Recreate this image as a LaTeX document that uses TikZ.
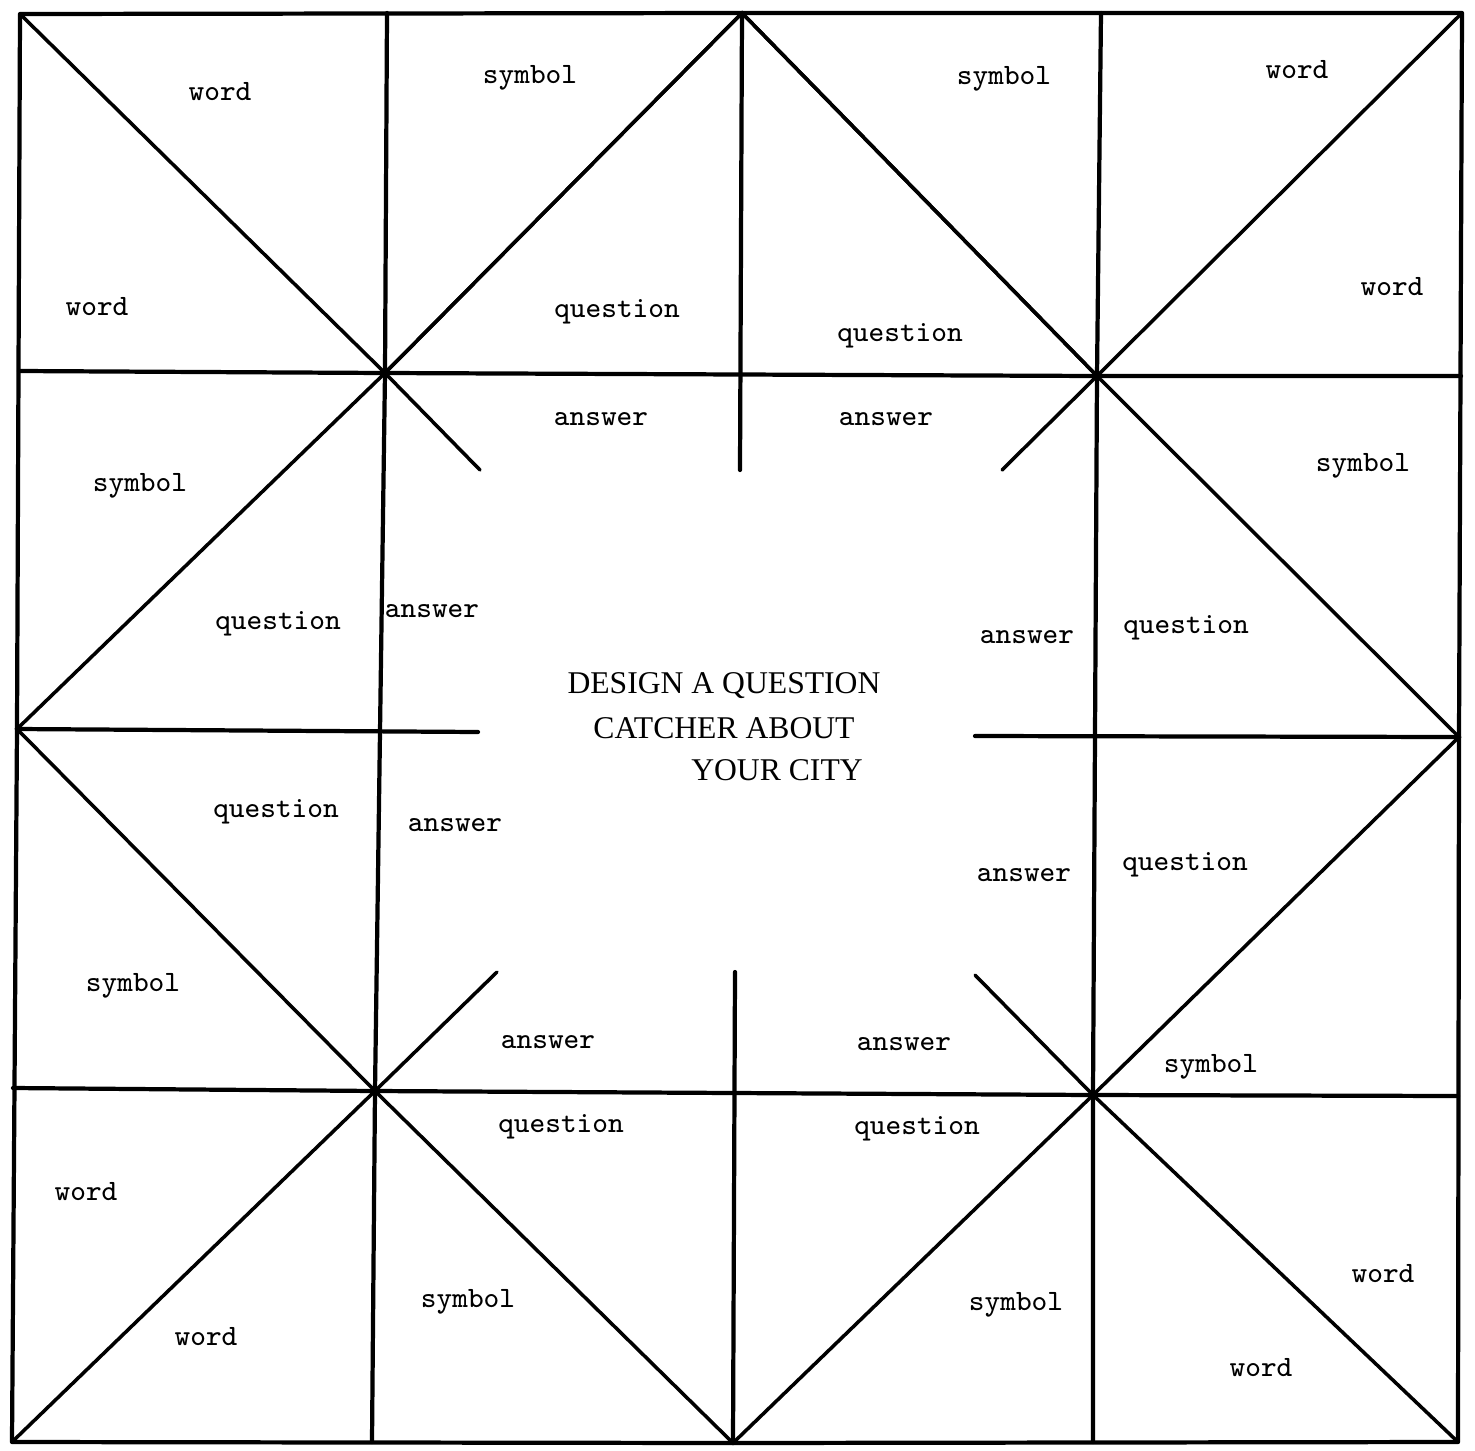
\documentclass[tikz,border=0pt]{standalone}
\usepackage{fontspec}
\newfontfamily\capsfont{Liberation Serif}
\usetikzlibrary{calc}

\begin{document}
\begin{tikzpicture}[
  x=0.01cm, y=-0.01cm,
  gridline/.style = {line width=1.2pt, line cap=round, line join=round},
  crease/.style   = {line width=1pt, line cap=round},
  lbl/.style      = {font=\ttfamily\fontsize{8.4}{10}\selectfont, inner sep=0pt},
  heading/.style  = {font=\capsfont\fontsize{9}{11}\selectfont, inner sep=0pt}
]
\useasboundingbox (0,0) rectangle (1475,1451);

%% Outer corners and edge midpoints
\coordinate (tl) at (20,14);
\coordinate (tr) at (1462,13);
\coordinate (br) at (1458,1442);
\coordinate (bl) at (12,1442);
\coordinate (tm) at (742,13);
\coordinate (bm) at (733,1443);
\coordinate (ml) at (17,729);
\coordinate (mr) at (1459,737);

%% Inner crossings
\coordinate (p1) at (385,373);
\coordinate (p2) at (1097,376);
\coordinate (p3) at (375,1091);
\coordinate (p4) at (1093,1095);

%% Ends of the lines that stop at the middle
\coordinate (a1) at (480,470);
\coordinate (a2) at (1002,470);
\coordinate (a3) at (497,972);
\coordinate (a4) at (975,975);
\coordinate (c1) at (740,470);
\coordinate (c2) at (735,972);
\coordinate (c3) at (478,732);
\coordinate (c4) at (975,736);

%% Frame and grid
\draw[gridline] (tl) -- (tm) -- (tr) -- (mr) -- (br) -- (bm) -- (bl) -- (ml) -- cycle;
\draw[gridline] (387,13) -- (p1) -- (p3) -- (372,1442);
\draw[gridline] (1101,13) -- (p2) -- (p4) -- (1093,1442);
\draw[gridline] (tm) -- (c1);
\draw[gridline] (c2) -- (bm);
\draw[gridline] (19,371) -- (p1) -- (p2) -- (1461,376);
\draw[gridline] (13,1088) -- (p3) -- (p4) -- (1458,1096);
\draw[gridline] (ml) -- (c3);
\draw[gridline] (c4) -- (mr);

%% Folds
\draw[crease] (tl) -- (p1) -- (tm) -- (p2) -- (tr);
\draw[crease] (bl) -- (p3) -- (bm) -- (p4) -- (br);
\draw[crease] (tm) -- (p1) -- (ml) -- (p3);
\draw[crease] (tm) -- (p2) -- (mr) -- (p4);
\draw[crease] (p1) -- (a1);
\draw[crease] (p2) -- (a2);
\draw[crease] (p3) -- (a3);
\draw[crease] (p4) -- (a4);

%% Top row
\node[lbl] (w1) at (220,92) {word};
\node[lbl] (w2) at (97,307) {word};
\node[lbl] (s1) at (530,78) {symbol};
\node[lbl] (q1) at (617,312) {question};
\node[lbl] (s2) at (1004,79) {symbol};
\node[lbl] (q2) at (900,336) {question};
\node[lbl] (w3) at (1297,70) {word};
\node[lbl] (w4) at (1392,287) {word};

%% Second row
\node[lbl] (s3) at (140,486) {symbol};
\node[lbl] (q3) at (278,624) {question};
\node[lbl] (an1) at (601,419) {answer};
\node[lbl] (an2) at (886,419) {answer};
\node[lbl] (an3) at (432,611) {answer};
\node[lbl] (an4) at (1027,637) {answer};
\node[lbl] (s4) at (1363,466) {symbol};
\node[lbl] (q4) at (1186,628) {question};

%% Third row
\node[lbl] (q5) at (276,812) {question};
\node[lbl] (s5) at (133,986) {symbol};
\node[lbl] (an5) at (455,825) {answer};
\node[lbl] (an6) at (1024,875) {answer};
\node[lbl] (q6) at (1185,865) {question};
\node[lbl] (s6) at (1211,1067) {symbol};
\node[lbl] (an7) at (548,1042) {answer};
\node[lbl] (an8) at (904,1044) {answer};

%% Bottom row
\node[lbl] (w5) at (86,1192) {word};
\node[lbl] (w6) at (206,1337) {word};
\node[lbl] (q7) at (561,1127) {question};
\node[lbl] (s7) at (468,1302) {symbol};
\node[lbl] (q8) at (917,1129) {question};
\node[lbl] (s8) at (1016,1305) {symbol};
\node[lbl] (w7) at (1383,1274) {word};
\node[lbl] (w8) at (1261,1368) {word};

%% Title in the middle
\node[heading] (t1) at (724,686) {DESIGN A QUESTION};
\node[heading] (t2) at (724,728) {CATCHER ABOUT};
\node[heading] (t3) at (777,770) {YOUR CITY};

\end{tikzpicture}
\end{document}
